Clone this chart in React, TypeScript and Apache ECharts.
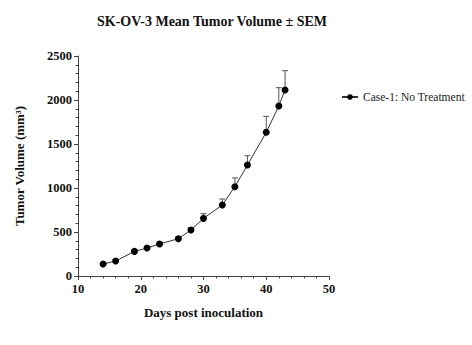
import React, { useEffect, useRef } from "react";
import * as echarts from "echarts";

const days = [14, 16, 19, 21, 23, 26, 28, 30, 33, 35, 37, 40, 42, 43];
const meanVolume = [136, 170, 280, 318, 364, 424, 523, 655, 807, 1015, 1261, 1633, 1932, 2114];
const semVolume = [10, 12, 15, 18, 20, 22, 28, 53, 68, 99, 106, 181, 208, 219];
const seriesName = "Case-1: No Treatment";

const FONT = "'Liberation Serif', 'Times New Roman', serif";

export default function App() {
  const ref = useRef<HTMLDivElement>(null);
  useEffect(() => {
    if (!ref.current) return;
    const chart = echarts.init(ref.current, undefined, { renderer: "svg" });
    const lineData = days.map((d, i) => [d, meanVolume[i]]);
    const errData = days.map((d, i) => [d, meanVolume[i], semVolume[i]]);
    chart.setOption({
      animation: false,
      backgroundColor: "#ffffff",
      textStyle: { fontFamily: FONT },
      title: {
        text: "SK-OV-3 Mean Tumor Volume \u00b1 SEM",
        left: 207,
        textAlign: "center",
        top: 9,
        textStyle: { fontFamily: FONT, fontWeight: "bold", fontSize: 14, color: "#111" },
      },
      legend: {
        left: 336,
        top: 86,
        itemWidth: 16,
        itemHeight: 7,
        itemGap: 6,
        data: [seriesName],
        textStyle: { fontFamily: FONT, fontSize: 11.5, color: "#222" },
      },
      grid: { left: 78, top: 56, right: 143, bottom: 69 },
      xAxis: {
        type: "value",
        min: 10,
        max: 50,
        interval: 10,
        name: "Days post inoculation",
        nameLocation: "middle",
        nameGap: 30,
        nameTextStyle: { fontFamily: FONT, fontWeight: "bold", fontSize: 13, color: "#111" },
        axisLine: { show: true, lineStyle: { color: "#444", width: 1 } },
        axisTick: { show: true, length: 4, lineStyle: { color: "#444" } },
        minorTick: { show: true, splitNumber: 5, length: 2.5, lineStyle: { color: "#444" } },
        splitLine: { show: false },
        axisLabel: { fontFamily: FONT, fontWeight: "bold", fontSize: 12.5, color: "#111", margin: 6 },
      },
      yAxis: {
        type: "value",
        min: 0,
        max: 2500,
        interval: 500,
        name: "Tumor Volume (mm\u00b3)",
        nameLocation: "middle",
        nameGap: 52,
        nameTextStyle: { fontFamily: FONT, fontWeight: "bold", fontSize: 13, color: "#111" },
        axisLine: { show: true, lineStyle: { color: "#444", width: 1 } },
        axisTick: { show: true, length: 4, lineStyle: { color: "#444" } },
        minorTick: { show: true, splitNumber: 5, length: 2.5, lineStyle: { color: "#444" } },
        splitLine: { show: false },
        axisLabel: {
          fontFamily: FONT,
          fontWeight: "bold",
          fontSize: 12.5,
          color: "#111",
          margin: 6,
          formatter: (v: number) => String(v),
        },
      },
      series: [
        {
          type: "custom",
          name: "sem",
          data: errData,
          z: 1,
          renderItem: (params: any, api: any) => {
            const x = api.value(0);
            const m = api.value(1);
            const s = api.value(2);
            const p0 = api.coord([x, m]);
            const p1 = api.coord([x, m + s]);
            const cap = 3;
            return {
              type: "group",
              children: [
                { type: "line", shape: { x1: p0[0], y1: p0[1], x2: p1[0], y2: p1[1] }, style: { stroke: "#555", lineWidth: 1 } },
                { type: "line", shape: { x1: p1[0] - cap, y1: p1[1], x2: p1[0] + cap, y2: p1[1] }, style: { stroke: "#555", lineWidth: 1 } },
              ],
            };
          },
        },
        {
          type: "line",
          name: seriesName,
          data: lineData,
          z: 3,
          symbol: "circle",
          symbolSize: 7,
          itemStyle: { color: "#000" },
          lineStyle: { color: "#333", width: 1 },
        },
      ],
    });
    return () => chart.dispose();
  }, []);
  return <div ref={ref} style={{ width: 472, height: 345, position: "absolute", left: 0, top: 0 }} />;
}
